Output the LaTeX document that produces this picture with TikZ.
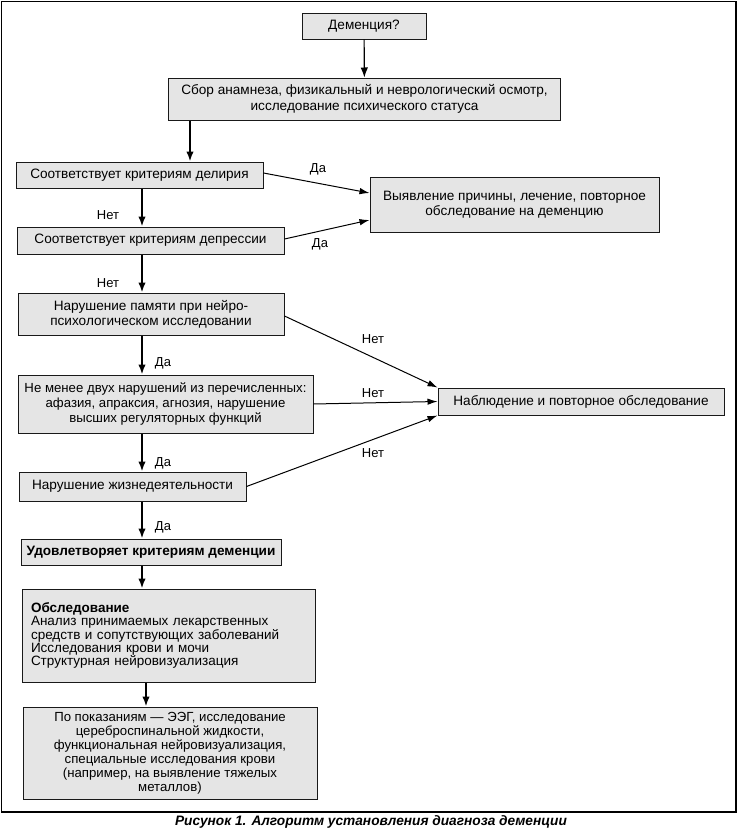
\documentclass[tikz,border=0pt]{standalone}
\usepackage{fontspec}
\setmainfont{Liberation Sans}
\usetikzlibrary{arrows.meta}
\begin{document}
\begin{tikzpicture}[x=1pt,y=-1pt,
  box/.style={draw=black!90, line width=1pt, fill=black!10, inner sep=0pt, align=center,
    font=\fontsize{13.6}{15.3}\selectfont},
  varrow/.style={line width=1.9pt, -{Latex[length=10pt,width=7.5pt]}},
  darrow/.style={line width=1pt, -{Latex[length=10pt,width=6.5pt]}},
  lbl/.style={font=\fontsize{13}{15}\selectfont, inner sep=0pt}]
\useasboundingbox (0,0) rectangle (741,830);
\draw[line width=1.5pt] (1.5,1.5) rectangle (736,812);
\coordinate (vx) at (142,0);
\coordinate (vx2) at (146,0);
\coordinate (vb) at (190,0);
% boxes
\node[box, minimum width=124pt, minimum height=26pt] (A) at (364,26) {Деменция?};
\node[box, minimum width=392pt, minimum height=42pt] (B) at (364.5,99) {Сбор анамнеза, физикальный и неврологический осмотр,\\ исследование психического статуса};
\node[box, minimum width=247pt, minimum height=26pt] (C) at (139.5,175) {Соответствует критериям делирия};
\node[box, minimum width=289pt, minimum height=55pt] (D) at (514.5,204.5) {Выявление причины, лечение, повторное\\ обследование на деменцию};
\node[box, minimum width=267pt, minimum height=27pt] (E) at (150.5,240.5) {Соответствует критериям депрессии};
\node[box, minimum width=266pt, minimum height=42pt] (F) at (151,314) {Нарушение памяти при нейро-\\психологическом исследовании};
\node[box, minimum width=286pt, minimum height=27pt] (G) at (581,401.5) {Наблюдение и повторное обследование};
\node[box, minimum width=295pt, minimum height=58pt, font=\fontsize{13.2}{15.3}\selectfont] (H) at (165.5,404) {Не менее двух нарушений из перечисленных:\\ афазия, апраксия, агнозия, нарушение\\ высших регуляторных функций};
\node[box, minimum width=227pt, minimum height=29pt] (I) at (132.5,486.5) {Нарушение жизнедеятельности};
\node[box, minimum width=260pt, minimum height=26pt] (J) at (151,552) {\bfseries Удовлетворяет критериям деменции};
\node[box, text width=275pt, inner xsep=9pt, minimum height=93pt, align=left,
  font=\fontsize{13.5}{13.2}\selectfont] (K) at (168.5,635.5) {\textbf{Обследование}\\ Анализ принимаемых лекарственных\\ средств и сопутствующих заболеваний\\ Исследования крови и мочи\\ Структурная нейровизуализация};
\node[box, minimum width=294pt, minimum height=92pt, font=\fontsize{13.2}{14}\selectfont] (L) at (170,753) {По показаниям — ЭЭГ, исследование\\ цереброспинальной жидкости,\\ функциональная нейровизуализация,\\ специальные исследования крови\\ (например, на выявление тяжелых\\ металлов)};
% vertical arrows
\draw[varrow, line width=1.2pt] (A) -- (B);
\draw[varrow] (B.south -| vb) -- (C.north -| vb);
\draw[varrow] (C.south -| vx) -- (E.north -| vx);
\draw[varrow] (E.south -| vx) -- (F.north -| vx);
\draw[varrow] (F.south -| vx) -- (H.north -| vx);
\draw[varrow] (H.south -| vx) -- (I.north -| vx);
\draw[varrow] (I.south -| vx) -- (J.north -| vx);
\draw[varrow] (J.south -| vx) -- (K.north -| vx);
\draw[varrow] (K.south -| vx2) -- (L.north -| vx2);
% diagonal arrows
\draw[darrow] ([yshift=2pt]C.east) -- ([yshift=11.5pt]D.west);
\draw[darrow] ([yshift=1.5pt]E.east) -- ([yshift=-15.5pt]D.west);
\draw[darrow] ([yshift=-2pt]F.east) -- (G.north west);
\draw[darrow] (H.east) -- (G.west);
\draw[darrow] (I.east) -- (G.south west);
% labels
\node[lbl] (l1) at (318,169) {Да};
\node[lbl] (l2) at (320,244) {Да};
\node[lbl] (l3) at (108,215) {Нет};
\node[lbl] (l4) at (108,283) {Нет};
\node[lbl] (l5) at (373,339) {Нет};
\node[lbl] (l6) at (373,393) {Нет};
\node[lbl] (l7) at (373,453) {Нет};
\node[lbl] (l8) at (163,363) {Да};
\node[lbl] (l9) at (163,463) {Да};
\node[lbl] (l10) at (163,527) {Да};
% caption
\node[font=\fontsize{13.7}{15}\selectfont\bfseries\itshape, inner sep=0pt] (cap) at (371,822) {Рисунок 1. Алгоритм установления диагноза деменции};
\end{tikzpicture}
\end{document}
